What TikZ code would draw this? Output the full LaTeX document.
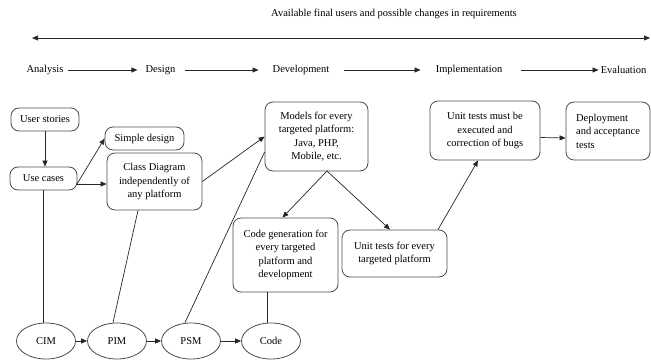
\documentclass[tikz,border=0pt]{standalone}
\usepackage{fontspec}
\setmainfont{Liberation Serif}
\usetikzlibrary{arrows.meta,shapes.geometric}
\begin{document}
\begin{tikzpicture}[x=1pt,y=-1pt,
  every node/.style={font=\fontsize{10.5}{13.5}\selectfont},
  tipped/.style={-{Triangle[length=6pt,width=5pt]}},
  box/.style={draw=black!70, line width=0.8pt, rounded corners=8pt, align=center, inner sep=0pt},
  oval/.style={draw=black!70, line width=0.8pt, ellipse, inner sep=0pt, minimum width=59pt, minimum height=36pt},
  lab/.style={inner sep=0pt},
  conn/.style={line width=0.7pt, draw=black!85}]
\useasboundingbox (0,0) rectangle (651,361);

% title and top double arrow
\node[lab] (title) at (394,14) {Available final users and possible changes in requirements};
\coordinate (la) at (32,38);
\coordinate (ra) at (650,38);
\draw[conn, {Triangle[length=6pt,width=5pt]}-{Triangle[length=6pt,width=5pt]}] (la) -- (ra);

% phases
\node[lab] (an) at (45,70) {Analysis};
\node[lab] (de) at (160.5,70) {Design};
\node[lab] (dv) at (301,70) {Development};
\node[lab] (im) at (469,70) {Implementation};
\node[lab] (ev) at (623.5,70) {Evaluation};
\draw[conn, tipped, shorten <=4pt, shorten >=8pt] (an.east) -- (de.west);
\draw[conn, tipped, shorten <=9pt, shorten >=14pt] (de.east) -- (dv.west);
\draw[conn, tipped, shorten <=15pt, shorten >=15pt] (dv.east) -- (im.west);
\draw[conn, tipped, shorten <=19pt, shorten >=2pt] (im.east) -- (ev.west);

% boxes
\node[box, minimum width=68pt, minimum height=23pt] (us) at (45,119.5) {User stories};
\node[box, minimum width=67pt, minimum height=23pt] (uc) at (43.5,178.5) {Use cases};
\node[box, minimum width=79pt, minimum height=23pt] (sd) at (144.5,138.5) {Simple design};
\node[box, minimum width=95pt, minimum height=57pt] (cd) at (154.5,181.5) {Class Diagram\\independently of\\any platform};
\node[box, minimum width=103pt, minimum height=69pt] (md) at (316.5,136.5) {Models for every\\targeted platform:\\Java, PHP,\\Mobile, etc.};
\node[box, minimum width=105pt, minimum height=74pt] (cg) at (285.5,255) {Code generation for\\every targeted\\platform and\\development};
\node[box, minimum width=105pt, minimum height=47pt] (ut) at (394.5,253.5) {Unit tests for every\\targeted platform};
\node[box, minimum width=110pt, minimum height=59pt] (um) at (485,130.5) {Unit tests must be\\executed and\\correction of bugs};
\node[box, align=left, minimum width=84pt, minimum height=58pt] (dp) at (608,131) {Deployment\\and acceptance\\tests};

% ellipses
\node[oval] (cim) at (46,341) {CIM};
\node[oval] (pim) at (117,341) {PIM};
\node[oval] (psm) at (191,341) {PSM};
\node[oval] (code) at (271,341) {Code};

% connectors
\coordinate (ucout) at (77,184);
\coordinate (mdout) at (327,171);
\draw[conn, tipped] (us.south) -- (us.south |- uc.north);
\draw[conn, tipped] (ucout) -- (sd.west);
\draw[conn, tipped] (ucout) -- (ucout -| cd.west);
\draw[conn] (uc.south) -- (uc.south |- cim.north);
\draw[conn] ([xshift=-16.5pt]cd.south) -- ([xshift=-4pt]pim.north);
\draw[conn, tipped] (cd.east) -- (md.west);
\draw[conn] ([xshift=-6pt]psm.north) -- ([yshift=-15.5pt]md.west);
\draw[conn, tipped] (mdout) -- ([xshift=-3pt]cg.north);
\draw[conn, tipped] (mdout) -- ([xshift=-4.5pt]ut.north);
\draw[conn, tipped] ([xshift=43.5pt]ut.north) -- ([xshift=-7pt]um.south);
\draw[conn, tipped] ([yshift=-7pt]um.east) -- ([yshift=-7pt]dp.west);
\draw[conn] ([xshift=-18.5pt]cg.south) -- ([xshift=-4pt]code.north);
\draw[conn, tipped] (cim.east) -- (pim.west);
\draw[conn, tipped] (pim.east) -- (psm.west);
\draw[conn, tipped] (psm.east) -- (code.west);
\end{tikzpicture}
\end{document}
